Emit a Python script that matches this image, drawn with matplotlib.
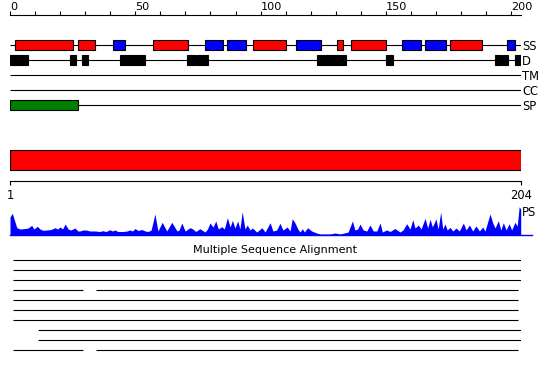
import matplotlib
matplotlib.use("Agg")
import matplotlib.pyplot as plt

W, H = 550, 380

seq_len = 204
track_names = ["SS", "D", "TM", "CC", "SP"]

# secondary structure: start, end, type (H = helix, E = strand)
ss_start = [2, 27, 41, 57, 78, 86.5, 97, 114, 130.5, 136, 156.5, 165.5, 175.5, 198.5]
ss_end = [25, 34, 46, 71, 85, 94, 110, 124, 133, 150, 164, 174, 188.5, 201.5]
ss_type = ["H", "H", "E", "H", "E", "E", "H", "E", "H", "H", "E", "E", "H", "E"]

# disorder segments
dis_start = [0, 24, 28.7, 44, 70.5, 74.6, 122.5, 150, 193.5, 196.3, 201.5]
dis_end = [7, 26.3, 31, 54, 74.2, 79, 134, 152.7, 196, 198.6, 204]

# signal peptide
sp_start = [0]
sp_end = [27]

# PS profile (residue, score)
ps_pos = [1.0, 1.9, 3.7, 5.0, 7.0, 8.2, 9.6, 10.5, 11.9, 12.9, 14.1, 15.7, 17.3, 18.9,
          19.9, 20.9, 21.9, 22.9, 24.1, 25.2, 26.8, 28.0, 28.8, 30.0, 31.2, 32.8, 34.8,
          36.8, 37.8, 39.2, 40.7, 41.7, 42.7, 43.9, 45.9, 47.5, 48.7, 49.7, 50.7, 51.9,
          53.4, 54.7, 55.9, 57.1, 58.6, 59.8, 61.5, 63.3, 65.3, 67.4, 68.2, 69.3, 70.6,
          72.6, 73.7, 74.8, 76.5, 78.5, 79.5, 80.5, 81.7, 82.8, 83.8, 85.2, 86.2, 87.4,
          88.5, 89.4, 90.4, 91.5, 92.4, 93.3, 94.4, 95.3, 96.4, 97.3, 99.1, 101.1, 102.4,
          104.4, 105.5, 107.0, 108.3, 109.5, 111.2, 112.3, 113.2, 114.3, 115.4, 116.3,
          117.2, 118.0, 119.3, 120.9, 122.9, 124.2, 128.2, 130.2, 132.2, 135.4, 137.1,
          138.1, 139.2, 140.1, 141.4, 142.8, 144.1, 145.4, 146.8, 148.1, 149.0, 150.7,
          152.1, 154.0, 156.0, 157.2, 158.7, 160.0, 161.1, 162.0, 163.3, 164.4, 166.0,
          167.0, 168.0, 168.9, 170.3, 171.2, 172.2, 173.0, 173.9, 174.8, 175.9, 177.0,
          178.3, 179.6, 181.2, 182.3, 183.6, 184.9, 186.2, 187.6, 188.9, 189.8, 191.8,
          192.9, 193.8, 195.1, 196.1, 197.1, 198.2, 199.4, 200.4, 201.7, 202.6, 203.4,
          204.0]
ps_val = [18, 21.7, 7.3, 6, 6.5, 7, 9.7, 6, 8.7, 6, 4.7, 5, 5.5, 7.3,
          6, 8, 6, 11, 6, 5, 7, 4, 4, 5, 5, 4, 4,
          3.5, 4.3, 3.5, 5.3, 4, 5, 3.5, 3.5, 4, 5, 4, 6.5, 4.5,
          5.5, 4, 3.5, 5, 21, 4, 12.7, 4, 12.7, 4, 5, 12, 4,
          7.3, 6, 3.5, 6.3, 3, 6, 12, 8, 14, 6, 8.3, 6, 17.3,
          8, 14.7, 7, 14, 6, 23.3, 6, 10, 5, 7, 3, 7.3, 3,
          12.3, 4, 5, 11.7, 5, 8, 4, 16.3, 12, 6, 3,
          6.3, 3, 7.3, 4, 2, 1, 1, 2, 1, 3, 14,
          5, 6, 11, 5, 4, 10, 4, 4, 12, 3, 5,
          3.5, 6.5, 3, 5, 11.3, 6, 15.3, 7, 10, 6, 16.7,
          7, 15.7, 8, 16, 6, 23, 6, 11, 5, 7.7, 4,
          7, 4, 12, 5, 10, 4, 9, 4, 8, 4, 21,
          12, 7, 14.3, 5, 12.3, 5, 11.3, 5, 12.7, 9, 28.3,
          26]

# alignment rows: list of (start, end) segments
msa_rows = [
    [(2, 204)],
    [(2, 204)],
    [(2, 204)],
    [(2, 30), (35, 203)],
    [(2, 203)],
    [(2, 203)],
    [(2, 203)],
    [(12, 204)],
    [(12, 204)],
    [(2, 30), (35, 203)],
]

ss_colors = {"H": "#ff0000", "E": "#0000ff"}


def px_axes(fig, x0, y0, x1, y1):
    return fig.add_axes([x0 / W, 1 - y1 / H, (x1 - x0) / W, (y1 - y0) / H])


def clear(ax):
    for s in ax.spines.values():
        s.set_visible(False)
    ax.set_xticks([])
    ax.set_yticks([])
    ax.patch.set_alpha(0)


fig = plt.figure(figsize=(W / 100, H / 100), dpi=100)
fs = 8.3
lw = 0.8

# ---- top ruler and feature tracks
ax = px_axes(fig, 10, 15, 521.2, 115)
clear(ax)
ax.set_xlim(0, seq_len)
ax.set_ylim(4.667, -2)
ax.spines["top"].set_visible(True)
ax.spines["top"].set_linewidth(lw)
ax.xaxis.tick_top()
ax.set_xticks(range(0, 201, 50))
ax.set_xticks(range(0, 201, 10), minor=True)
ax.tick_params(axis="x", which="both", direction="out", length=3, width=lw,
               pad=-0.6, labelsize=8.1)
for lab in ax.get_xticklabels():
    lab.set_horizontalalignment("left")
ax.yaxis.tick_right()
ax.set_yticks(range(len(track_names)))
ax.set_yticklabels(track_names)
ax.tick_params(axis="y", length=0, pad=0.5, labelsize=fs)

rows = list(range(len(track_names)))
ax.hlines(rows, 0, seq_len, color="black", lw=lw, zorder=1)
bh = 0.667
for s, e, t in zip(ss_start, ss_end, ss_type):
    ax.barh(0, e - s, left=s, height=bh, color=ss_colors[t], edgecolor="black",
            lw=lw, zorder=2)
for s, e in zip(dis_start, dis_end):
    ax.barh(1, e - s, left=s, height=bh, color="black", edgecolor="black",
            lw=lw, zorder=2)
for s, e in zip(sp_start, sp_end):
    ax.barh(4, e - s, left=s, height=bh, color="#008000", edgecolor="black",
            lw=lw, zorder=2)

# ---- full-length domain bar and residue ruler
ax2 = px_axes(fig, 10, 145, 520.7, 181)
clear(ax2)
ax2.set_xlim(1, seq_len)
ax2.set_ylim(1.05, -0.75)
ax2.barh(0, seq_len - 1, left=1, height=1, color="#ff0000", edgecolor="black", lw=lw)
ax2.spines["bottom"].set_visible(True)
ax2.spines["bottom"].set_linewidth(lw)
ax2.set_xticks([1, seq_len])
ax2.set_xticklabels(["1", str(seq_len)])
ax2.tick_params(axis="x", direction="out", length=3, width=lw, pad=3, labelsize=fs)

# ---- PS profile
ax3 = px_axes(fig, 10, 205, 520.7, 235)
clear(ax3)
ax3.set_xlim(1, seq_len)
ax3.set_ylim(0, 30)
ax3.fill_between(ps_pos, 0, ps_val, color="#0000ff", lw=0)
ax3.axhline(0, xmin=0, xmax=1.022, color="#0000ff", lw=1, clip_on=False)
ax3.text(1.002, 0.97, "PS", transform=ax3.transAxes, ha="left", va="top", fontsize=fs)

# ---- multiple sequence alignment
fig.text(0.5, 1 - 250 / H, "Multiple Sequence Alignment", ha="center", va="center",
         fontsize=8)
ax4 = px_axes(fig, 10, 255, 520.7, 355)
clear(ax4)
ax4.set_xlim(1, seq_len)
ax4.set_ylim(9.5, -0.5)
for i, segs in enumerate(msa_rows):
    for s, e in segs:
        ax4.hlines(i, s, e, color="black", lw=lw)

fig.savefig("out.png", dpi=100, facecolor="white")
